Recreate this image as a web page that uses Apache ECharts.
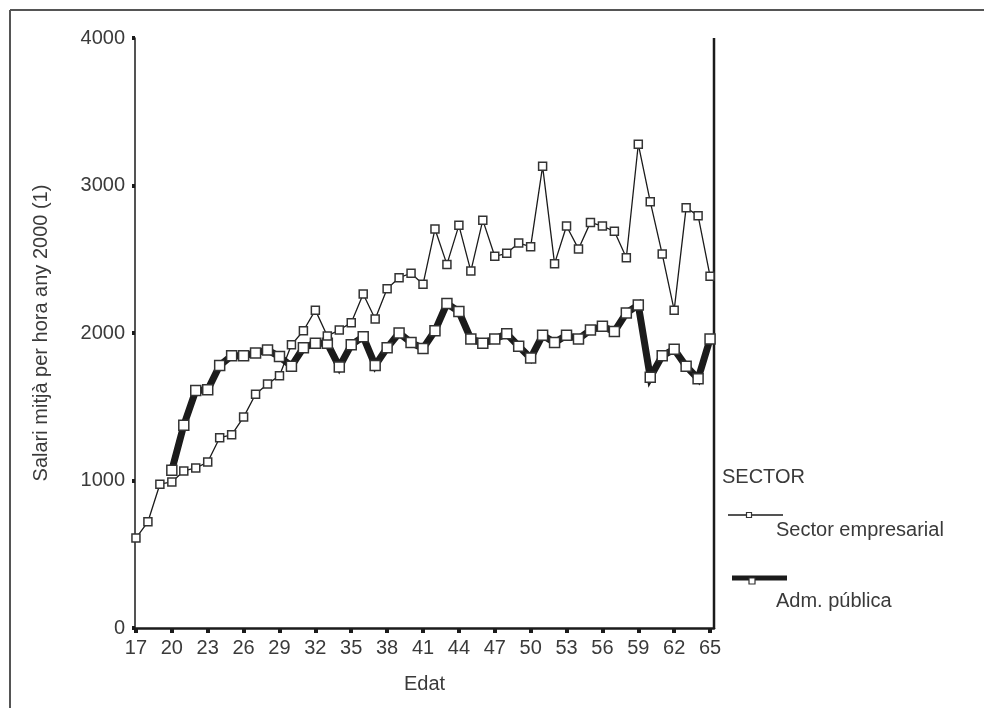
<!DOCTYPE html>
<html>
<head>
<meta charset="utf-8">
<script src="https://cdn.jsdelivr.net/npm/echarts@6/dist/echarts.min.js"></script>
<style>
  html, body { margin: 0; padding: 0; background: #fff; }
  #chart { width: 984px; height: 708px; }
</style>
</head>
<body>
<div id="chart"></div>
<script>
// Age in years (x axis)
const ages = [17, 18, 19, 20, 21, 22, 23, 24, 25, 26, 27, 28, 29, 30, 31, 32,
  33, 34, 35, 36, 37, 38, 39, 40, 41, 42, 43, 44, 45, 46, 47, 48, 49, 50, 51,
  52, 53, 54, 55, 56, 57, 58, 59, 60, 61, 62, 63, 64, 65];

// Mean hourly wage, year 2000 – private sector
const sectorEmpresarial = [610, 720, 975, 990, 1065, 1085, 1125, 1290, 1310,
  1430, 1585, 1655, 1710, 1920, 2015, 2155, 1980, 2020, 2070, 2265, 2095, 2300,
  2375, 2405, 2330, 2705, 2465, 2730, 2420, 2765, 2520, 2540, 2610, 2585, 3130,
  2470, 2725, 2570, 2750, 2725, 2690, 2510, 3280, 2890, 2535, 2155, 2850, 2795,
  2385];

// Mean hourly wage, year 2000 – public administration (no data before 20)
const admPublica = [null, null, null, 1070, 1375, 1610, 1615, 1780, 1845, 1845,
  1865, 1885, 1840, 1775, 1900, 1930, 1930, 1770, 1920, 1975, 1780, 1900, 2000,
  1935, 1895, 2015, 2200, 2145, 1960, 1930, 1960, 1995, 1910, 1830, 1985, 1935,
  1985, 1960, 2020, 2045, 2010, 2135, 2190, 1700, 1845, 1890, 1775, 1690, 1960];

// Tick labels
const xTicks = [17, 20, 23, 26, 29, 32, 35, 38, 41, 44, 47, 50, 53, 56, 59, 62, 65];
const yTicks = [0, 1000, 2000, 3000, 4000];

const seriesNames = ['Sector empresarial', 'Adm. pública'];
const legendTitle = 'SECTOR';

const FONT = '"Liberation Sans", "DejaVu Sans", sans-serif';
const TEXT = '#3a3a3a';
const INK = '#1b1b1b';

const chart = echarts.init(document.getElementById('chart'), null, { renderer: 'canvas' });

const pairs = (vals) => ages.map((a, i) => [a, vals[i]]);

chart.setOption({
  animation: false,
  backgroundColor: '#fff',
  grid: { left: 135, right: 270, top: 38, bottom: 80, containLabel: false },
  xAxis: {
    type: 'value',
    min: 16.92,
    max: 65.33,
    name: 'Edat',
    nameLocation: 'middle',
    nameGap: 46,
    nameTextStyle: { fontFamily: FONT, fontSize: 20, color: TEXT },
    axisLine: { onZero: false, lineStyle: { color: INK, width: 2.5 } },
    axisTick: { show: true, customValues: xTicks, length: 5, lineStyle: { color: INK, width: 4 } },
    axisLabel: { customValues: xTicks, fontFamily: FONT, fontSize: 20, color: TEXT, margin: 10 },
    splitLine: { show: false }
  },
  yAxis: {
    type: 'value',
    min: yTicks[0],
    max: yTicks[yTicks.length - 1],
    interval: 1000,
    name: 'Salari mitjà per hora any 2000 (1)',
    nameLocation: 'middle',
    nameGap: 84,
    nameTextStyle: { fontFamily: FONT, fontSize: 20, color: TEXT },
    axisLine: { show: true, lineStyle: { color: INK, width: 1.5 } },
    axisTick: { show: true, length: 3, lineStyle: { color: INK, width: 4 } },
    axisLabel: { fontFamily: FONT, fontSize: 20, color: TEXT, margin: 10, formatter: (v) => String(v) },
    splitLine: { show: false }
  },
  series: [
    {
      name: seriesNames[1],
      type: 'line',
      data: pairs(admPublica),
      connectNulls: false,
      symbol: 'rect',
      symbolSize: 10,
      showAllSymbol: true,
      lineStyle: { color: INK, width: 7, join: 'miter', miterLimit: 10 },
      itemStyle: { color: '#fff', borderColor: '#333', borderWidth: 1.5 },
      z: 2
    },
    {
      name: seriesNames[0],
      type: 'line',
      data: pairs(sectorEmpresarial),
      symbol: 'rect',
      symbolSize: 8,
      showAllSymbol: true,
      lineStyle: { color: INK, width: 1.3 },
      itemStyle: { color: '#fff', borderColor: '#333', borderWidth: 1.5 },
      z: 3
    }
  ],
  graphic: [
    // outer frame
    { type: 'line', shape: { x1: 10, y1: 10, x2: 984, y2: 10 }, style: { stroke: '#555', lineWidth: 2 } },
    { type: 'line', shape: { x1: 10, y1: 10, x2: 10, y2: 708 }, style: { stroke: '#555', lineWidth: 2 } },
    // right edge of the plot frame
    { type: 'line', shape: { x1: 714, y1: 38, x2: 714, y2: 629 }, style: { stroke: INK, lineWidth: 2.5 } },
    // legend
    { type: 'text', left: 722, top: 467, style: { text: legendTitle, font: '20px ' + FONT, fill: TEXT } },
    { type: 'line', shape: { x1: 728, y1: 515, x2: 783, y2: 515 }, style: { stroke: INK, lineWidth: 1.3 } },
    { type: 'rect', shape: { x: 746.5, y: 512.5, width: 5, height: 5 }, style: { fill: '#fff', stroke: '#333', lineWidth: 1.2 } },
    { type: 'text', left: 776, top: 520, style: { text: seriesNames[0], font: '20px ' + FONT, fill: TEXT } },
    { type: 'line', shape: { x1: 732, y1: 578, x2: 787, y2: 578 }, style: { stroke: INK, lineWidth: 5 } },
    { type: 'rect', shape: { x: 749, y: 578, width: 6, height: 6 }, style: { fill: '#fff', stroke: '#333', lineWidth: 1.2 } },
    { type: 'text', left: 776, top: 591, style: { text: seriesNames[1], font: '20px ' + FONT, fill: TEXT } }
  ]
});
</script>
</body>
</html>
